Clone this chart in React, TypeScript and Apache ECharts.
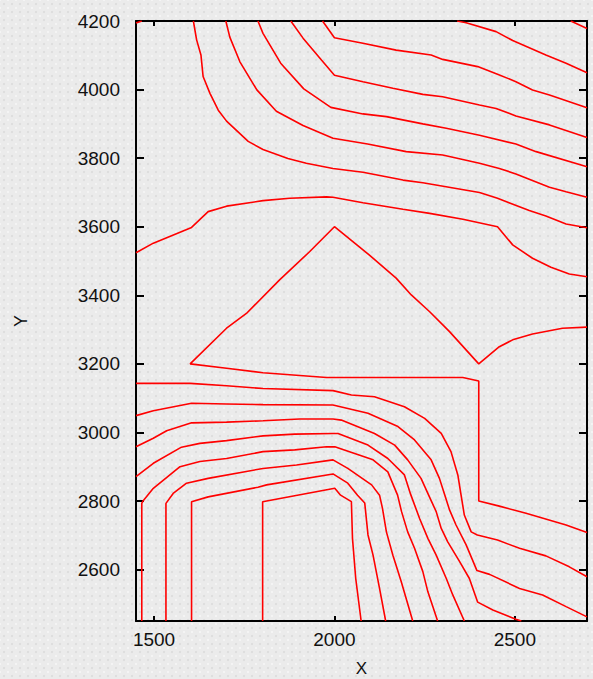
import React, { useEffect, useRef } from "react";
import * as echarts from "echarts";

// Axis ranges and tick values
const xRange = [1450, 2700];
const yRange = [2450, 4200];
const xTicks = [1500, 2000, 2500];
const yTicks = [2600, 2800, 3000, 3200, 3400, 3600, 3800, 4000, 4200];

// Contour polylines (data coordinates)
const cornerTL = [[1450, 4194], [1466, 4200]];
const cornerTR = [[2655, 4200], [2700, 4178]];

const t0 = [[2340, 4200], [2365, 4195], [2448, 4169], [2494, 4143], [2586, 4101], [2642, 4077], [2700, 4049]];

const t1 = [[1967, 4200], [2000, 4151], [2079, 4135], [2171, 4115], [2268, 4101], [2300, 4088], [2397, 4067], [2452, 4045], [2503, 4023], [2549, 3999], [2596, 3984], [2700, 3947]];

const t2 = [[1879, 4200], [1913, 4150], [1964, 4086], [2000, 4042], [2079, 4023], [2162, 4004], [2245, 3986], [2300, 3979], [2402, 3955], [2448, 3945], [2503, 3923], [2596, 3897], [2700, 3860]];

const t3 = [[1788, 4200], [1802, 4164], [1851, 4077], [1915, 4002], [1990, 3948], [2079, 3929], [2144, 3921], [2245, 3900], [2310, 3887], [2402, 3867], [2503, 3841], [2559, 3819], [2700, 3775]];

const t4 = [[1699, 4200], [1710, 4153], [1738, 4081], [1785, 3999], [1839, 3937], [1913, 3895], [1996, 3858], [2092, 3841], [2199, 3819], [2300, 3809], [2402, 3785], [2457, 3770], [2503, 3754], [2596, 3715], [2642, 3702], [2700, 3686]];

const t5 = [[1609, 4200], [1618, 4145], [1630, 4101], [1636, 4038], [1655, 3989], [1678, 3940], [1701, 3908], [1761, 3849], [1802, 3825], [1871, 3799], [1922, 3785], [1996, 3770], [2079, 3759], [2190, 3736], [2245, 3728], [2402, 3700], [2452, 3683], [2540, 3647], [2586, 3631], [2642, 3608], [2700, 3597]];

const dome = [[1450, 3524], [1498, 3552], [1604, 3598], [1650, 3644], [1701, 3660], [1802, 3676], [1876, 3683], [1978, 3687], [1996, 3686], [2079, 3670], [2190, 3651], [2264, 3639], [2356, 3622], [2452, 3600], [2494, 3547], [2549, 3508], [2600, 3482], [2651, 3462], [2700, 3454]];

const triangle = [[2700, 3307], [2632, 3304], [2549, 3287], [2494, 3270], [2457, 3250], [2400, 3200], [2319, 3294], [2264, 3352], [2213, 3401], [2171, 3450], [2097, 3517], [2000, 3600], [1931, 3527], [1848, 3445], [1756, 3347], [1701, 3304], [1600, 3200], [1701, 3187], [1802, 3174], [1978, 3160], [2356, 3160], [2400, 3150], [2400, 2800], [2457, 2785], [2531, 2764], [2642, 2730], [2700, 2708]];

const la = [[1450, 3143], [1600, 3143], [1701, 3136], [1802, 3128], [1996, 3122], [2047, 3109], [2111, 3104], [2194, 3075], [2250, 3041], [2296, 2997], [2323, 2944], [2342, 2876], [2351, 2817], [2360, 2759], [2379, 2710], [2396, 2701], [2452, 2686], [2513, 2662], [2586, 2640], [2651, 2608], [2700, 2579]];

const lb = [[1450, 3049], [1498, 3063], [1604, 3085], [1701, 3083], [1802, 3081], [1996, 3080], [2093, 3056], [2176, 3017], [2222, 2978], [2268, 2920], [2291, 2866], [2306, 2817], [2319, 2774], [2337, 2730], [2365, 2672], [2395, 2597], [2430, 2586], [2513, 2545], [2577, 2526], [2642, 2492], [2700, 2462]];

const lc = [[1450, 2958], [1498, 2983], [1535, 3005], [1604, 3028], [1701, 3030], [1802, 3034], [1904, 3039], [1996, 3039], [2019, 3036], [2111, 2997], [2167, 2963], [2203, 2920], [2240, 2866], [2262, 2815], [2282, 2769], [2296, 2720], [2314, 2681], [2347, 2623], [2374, 2574], [2397, 2505], [2439, 2482], [2503, 2455], [2518, 2450]];

const ld = [[1450, 2871], [1498, 2910], [1576, 2957], [1627, 2968], [1701, 2976], [1802, 2990], [1890, 2995], [1996, 2997], [2010, 2997], [2093, 2963], [2148, 2924], [2194, 2876], [2211, 2820], [2236, 2749], [2259, 2691], [2282, 2642], [2310, 2574], [2328, 2526], [2360, 2450]];

const le = [[1466, 2450], [1466, 2793], [1470, 2801], [1498, 2837], [1572, 2900], [1627, 2915], [1701, 2924], [1802, 2944], [1890, 2949], [1978, 2958], [2001, 2958], [2107, 2920], [2148, 2885], [2175, 2817], [2186, 2769], [2203, 2710], [2222, 2662], [2245, 2594], [2259, 2535], [2286, 2450]];

const lf = [[1533, 2450], [1533, 2793], [1553, 2822], [1590, 2852], [1650, 2866], [1802, 2895], [1895, 2905], [1996, 2920], [2037, 2895], [2103, 2847], [2125, 2817], [2133, 2779], [2144, 2710], [2162, 2642], [2185, 2565], [2217, 2450]];

const lg = [[1604, 2450], [1604, 2798], [1650, 2812], [1788, 2840], [1812, 2847], [1996, 2879], [2037, 2852], [2064, 2817], [2084, 2794], [2093, 2701], [2107, 2642], [2125, 2545], [2142, 2450]];

const lh = [[1801, 2450], [1801, 2798], [2001, 2837], [2017, 2817], [2047, 2798], [2050, 2691], [2059, 2574], [2074, 2450]];

const contours = [cornerTL, cornerTR, t0, t1, t2, t3, t4, t5, dome, triangle, la, lb, lc, ld, le, lf, lg, lh];

const FONT = "'Liberation Sans', Arial, sans-serif";

export default function App() {
  const ref = useRef<HTMLDivElement>(null);

  useEffect(() => {
    if (!ref.current) return;
    const chart = echarts.init(ref.current, undefined, { renderer: "svg" });

    const axisLine = { show: true, onZero: false, lineStyle: { color: "#000", width: 2 } };
    const labelStyle = {
      color: "#111",
      fontSize: 19,
      fontFamily: FONT,
      formatter: (v: number) => String(v),
    };

    chart.setOption({
      animation: false,
      backgroundColor: "transparent",
      grid: {
        left: 136,
        right: 6,
        top: 21,
        bottom: 58,
        containLabel: false,
        outerBoundsMode: "none",
      },
      xAxis: [
        {
          type: "value",
          position: "bottom",
          min: xRange[0],
          max: xRange[1],
          name: "X",
          nameLocation: "middle",
          nameGap: 38,
          nameTextStyle: { color: "#111", fontSize: 17, lineHeight: 18, fontFamily: FONT },
          axisLine,
          axisTick: { show: true, inside: true, length: 5, customValues: xTicks, lineStyle: { color: "#000", width: 2 } },
          axisLabel: { show: true, margin: 9, customValues: xTicks, ...labelStyle },
          splitLine: { show: false },
        },
        {
          type: "value",
          position: "top",
          min: xRange[0],
          max: xRange[1],
          axisLine,
          axisTick: { show: true, inside: true, length: 5, customValues: xTicks, lineStyle: { color: "#000", width: 2 } },
          axisLabel: { show: false },
          splitLine: { show: false },
        },
      ],
      yAxis: [
        {
          type: "value",
          position: "left",
          min: yRange[0],
          max: yRange[1],
          name: "Y",
          nameLocation: "middle",
          nameGap: 106,
          nameRotate: 90,
          nameTextStyle: { color: "#111", fontSize: 18, fontFamily: FONT },
          axisLine,
          axisTick: { show: true, inside: true, length: 8, customValues: yTicks, lineStyle: { color: "#000", width: 2 } },
          axisLabel: { show: true, margin: 16, customValues: yTicks, ...labelStyle },
          splitLine: { show: false },
        },
        {
          type: "value",
          position: "right",
          min: yRange[0],
          max: yRange[1],
          axisLine,
          axisTick: { show: true, inside: true, length: 8, customValues: yTicks, lineStyle: { color: "#000", width: 2 } },
          axisLabel: { show: false },
          splitLine: { show: false },
        },
      ],
      series: contours.map((d) => ({
        type: "line",
        data: d,
        xAxisIndex: 0,
        yAxisIndex: 0,
        showSymbol: false,
        symbol: "none",
        silent: true,
        clip: true,
        lineStyle: { color: "#ff0000", width: 1.6 },
      })),
    });

    return () => chart.dispose();
  }, []);

  return (
    <div
      style={{
        position: "absolute",
        left: 0,
        top: 0,
        width: 593,
        height: 679,
        backgroundColor: "#ebebeb",
        backgroundImage:
          "radial-gradient(circle, #dedede 1.2px, transparent 1.6px), radial-gradient(circle, #f4f4f4 1px, transparent 1.4px)",
        backgroundSize: "8px 8px, 8px 8px",
        backgroundPosition: "0 0, 4px 4px",
      }}
    >
      <div ref={ref} style={{ width: 593, height: 679 }} />
    </div>
  );
}
